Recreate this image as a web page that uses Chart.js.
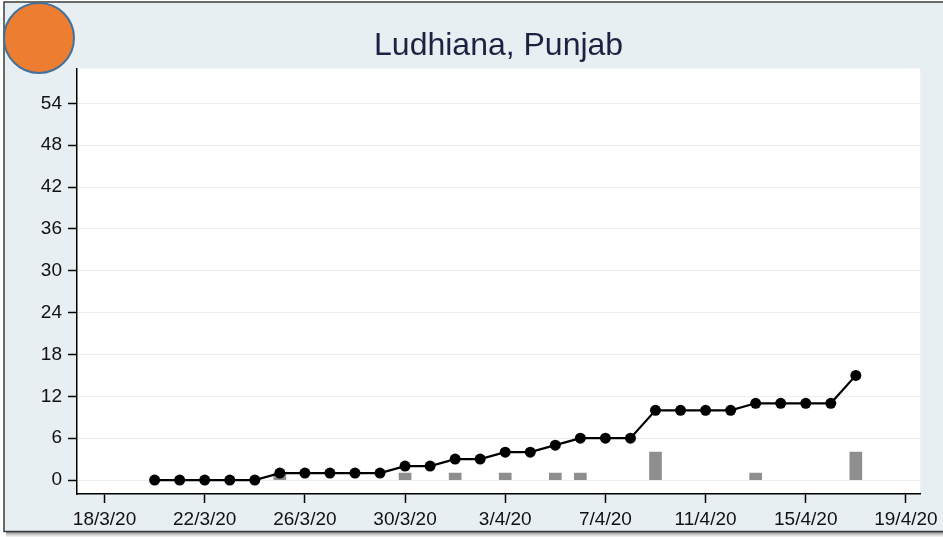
<!DOCTYPE html>
<html>
<head>
<meta charset="utf-8">
<title>Ludhiana, Punjab</title>
<script src="https://cdn.jsdelivr.net/npm/chart.js@4/dist/chart.umd.min.js"></script>
<style>
  html, body { margin: 0; padding: 0; background: #ffffff; }
  #wrap { width: 943px; height: 537px; }
</style>
</head>
<body>
<div id="wrap"><canvas id="chart" width="943" height="537"></canvas></div>
<script>
// Reporting dates (d/m/yy)
const dates = [
  '20/3/20', '21/3/20', '22/3/20', '23/3/20', '24/3/20', '25/3/20', '26/3/20',
  '27/3/20', '28/3/20', '29/3/20', '30/3/20', '31/3/20', '1/4/20', '2/4/20',
  '3/4/20', '4/4/20', '5/4/20', '6/4/20', '7/4/20', '8/4/20', '9/4/20',
  '10/4/20', '11/4/20', '12/4/20', '13/4/20', '14/4/20', '15/4/20', '16/4/20',
  '17/4/20'
];

// Cumulative confirmed cases
const cumulativeCases = [
  0, 0, 0, 0, 0, 1, 1,
  1, 1, 1, 2, 2, 3, 3,
  4, 4, 5, 6, 6, 6, 10,
  10, 10, 10, 11, 11, 11, 11,
  15
];

// New cases reported each day
const newCases = [
  0, 0, 0, 0, 0, 1, 0,
  0, 0, 0, 1, 0, 1, 0,
  1, 0, 1, 1, 0, 0, 4,
  0, 0, 0, 1, 0, 0, 0,
  4
];

// Axis tick labels
const xTickLabels = ['18/3/20', '22/3/20', '26/3/20', '30/3/20', '3/4/20', '7/4/20', '11/4/20', '15/4/20', '19/4/20'];
const yTickValues = [0, 6, 12, 18, 24, 30, 36, 42, 48, 54];

const titleText = 'Ludhiana, Punjab';

// d/m/yy -> day number
function dayNum(s) {
  const [d, m, y] = s.split('/').map(Number);
  return Math.round(Date.UTC(2000 + y, m - 1, d) / 86400000);
}
function dayLabel(n) {
  const dt = new Date(n * 86400000);
  return dt.getUTCDate() + '/' + (dt.getUTCMonth() + 1) + '/' + String(dt.getUTCFullYear()).slice(2);
}

const lineData = dates.map((d, i) => ({ x: dayNum(d), y: cumulativeCases[i] }));
// days without new cases get no bar
const barData = dates
  .map((d, i) => ({ x: dayNum(d), y: newCases[i] }))
  .filter(p => p.y > 0);
const xTickDays = xTickLabels.map(dayNum);

const FONT = "'Liberation Sans', Arial, Helvetica, sans-serif";

// Panel background, frame and plot area fill
const backdrop = {
  id: 'backdrop',
  beforeDraw(chart) {
    const { ctx, chartArea: a, width, height } = chart;
    ctx.save();
    ctx.fillStyle = '#ffffff';
    ctx.fillRect(0, 0, width, height);
    // shadow under the frame
    const g = ctx.createLinearGradient(0, 532, 0, 537);
    g.addColorStop(0, 'rgba(90,90,90,0.75)');
    g.addColorStop(1, 'rgba(200,200,200,0.2)');
    ctx.fillStyle = g;
    ctx.fillRect(6, 532, width - 6, 5);
    // panel
    ctx.fillStyle = '#e7eff3';
    ctx.fillRect(4, 2, width - 4, 530);
    ctx.strokeStyle = '#3c3c3c';
    ctx.lineWidth = 1.5;
    ctx.beginPath();
    ctx.moveTo(width + 2, 2);
    ctx.lineTo(4, 2);
    ctx.lineTo(4, 531.5);
    ctx.lineTo(width + 2, 531.5);
    ctx.stroke();
    // plot area
    ctx.fillStyle = '#ffffff';
    ctx.fillRect(a.left, a.top, a.right - a.left, a.bottom - a.top);
    ctx.restore();
  },
  afterDraw(chart) {
    const { ctx } = chart;
    ctx.save();
    ctx.beginPath();
    ctx.arc(39, 38, 35, 0, Math.PI * 2);
    ctx.fillStyle = '#ed7d31';
    ctx.fill();
    ctx.lineWidth = 2;
    ctx.strokeStyle = '#41719c';
    ctx.stroke();
    ctx.restore();
  }
};

new Chart(document.getElementById('chart'), {
  data: {
    datasets: [
      {
        type: 'line',
        label: 'Cumulative cases',
        data: lineData,
        borderColor: '#000000',
        backgroundColor: '#000000',
        borderWidth: 2.2,
        pointRadius: 5.5,
        pointBackgroundColor: '#000000',
        pointBorderWidth: 0,
        tension: 0,
        order: 0
      },
      {
        type: 'bar',
        label: 'New cases',
        data: barData,
        backgroundColor: '#8e8e8e',
        barThickness: 12,
        order: 1
      }
    ]
  },
  options: {
    responsive: false,
    animation: false,
    layout: { padding: { left: 5, right: 22, top: 0, bottom: 5 } },
    plugins: {
      legend: { display: false },
      tooltip: { enabled: false },
      title: {
        display: true,
        text: titleText,
        fullSize: false,
        color: '#1e2240',
        font: { family: FONT, size: 32, weight: 'normal' },
        padding: { top: 27, bottom: 3 }
      }
    },
    scales: {
      x: {
        type: 'linear',
        offset: false,
        min: xTickDays[0] - 1.1,
        max: xTickDays[xTickDays.length - 1] + 0.57,
        afterBuildTicks(scale) {
          scale.ticks = xTickDays.map(v => ({ value: v }));
        },
        afterFit(scale) { scale.height = 38; },
        ticks: {
          callback: v => dayLabel(v),
          color: '#111111',
          font: { family: FONT, size: 19 },
          padding: 5,
          maxRotation: 0,
          autoSkip: false
        },
        grid: {
          offset: false,
          color: 'rgba(0,0,0,0)',
          tickColor: '#000000',
          tickLength: 9,
          tickWidth: 1.5
        },
        border: { display: true, color: '#000000', width: 1.5 }
      },
      y: {
        type: 'linear',
        min: -2,
        max: 59,
        afterBuildTicks(scale) {
          scale.ticks = yTickValues.map(v => ({ value: v }));
        },
        afterFit(scale) { scale.width = 72; },
        ticks: {
          color: '#111111',
          font: { family: FONT, size: 19 },
          padding: 6
        },
        grid: {
          color: '#ececec',
          lineWidth: 1,
          tickColor: '#000000',
          tickLength: 9,
          tickWidth: 1.5
        },
        border: { display: true, color: '#000000', width: 1.5 }
      }
    }
  },
  plugins: [backdrop]
});
</script>
</body>
</html>
